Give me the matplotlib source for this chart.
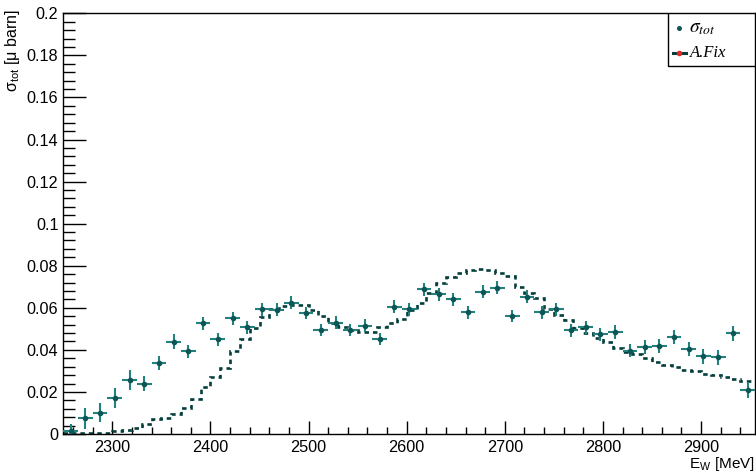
#!/usr/bin/env python3
"""Total cross section vs W, measured points against the A.Fix model histogram."""

import matplotlib

matplotlib.use("Agg")
import matplotlib.pyplot as plt
from matplotlib.lines import Line2D
from matplotlib.patches import Rectangle
from matplotlib.ticker import FuncFormatter, MultipleLocator

# measured points (15 MeV bins)
data_w = [2257.5, 2272.5, 2287.5, 2302.5, 2317.5, 2332.5, 2347.5, 2362.5, 2377.5, 2392.5,
          2407.5, 2422.5, 2437.5, 2452.5, 2467.5, 2482.5, 2497.5, 2512.5, 2527.5, 2542.5,
          2557.5, 2572.5, 2587.5, 2602.5, 2617.5, 2632.5, 2647.5, 2662.5, 2677.5, 2692.5,
          2707.5, 2722.5, 2737.5, 2752.5, 2767.5, 2782.5, 2797.5, 2812.5, 2827.5, 2842.5,
          2857.5, 2872.5, 2887.5, 2902.5, 2917.5, 2932.5, 2947.5]
data_sigma = [0.0016, 0.0075, 0.0101, 0.0170, 0.0257, 0.0240, 0.0339, 0.0439, 0.0394, 0.0526,
              0.0450, 0.0550, 0.0507, 0.0592, 0.0590, 0.0625, 0.0576, 0.0494, 0.0530, 0.0494,
              0.0515, 0.0451, 0.0605, 0.0594, 0.0689, 0.0664, 0.0641, 0.0578, 0.0676, 0.0695,
              0.0561, 0.0652, 0.0578, 0.0592, 0.0494, 0.0508, 0.0475, 0.0486, 0.0396, 0.0415,
              0.0418, 0.0462, 0.0404, 0.0370, 0.0364, 0.0478, 0.0209]
data_err = [0.0030, 0.0050, 0.0046, 0.0048, 0.0046, 0.0034, 0.0034, 0.0036, 0.0031, 0.0031,
            0.0031, 0.0031, 0.0031, 0.0031, 0.0031, 0.0031, 0.0030, 0.0030, 0.0030, 0.0030,
            0.0030, 0.0030, 0.0031, 0.0031, 0.0031, 0.0031, 0.0031, 0.0030, 0.0031, 0.0031,
            0.0030, 0.0031, 0.0031, 0.0031, 0.0031, 0.0031, 0.0031, 0.0032, 0.0032, 0.0033,
            0.0033, 0.0034, 0.0034, 0.0035, 0.0035, 0.0037, 0.0040]
bin_half = 7.5

# A.Fix model histogram (10 MeV bins)
fix_edges = [2250, 2260, 2270, 2280, 2290, 2300, 2310, 2320, 2330, 2340, 2350, 2360,
             2370, 2380, 2390, 2400, 2410, 2420, 2430, 2440, 2450, 2460, 2470, 2480,
             2490, 2500, 2510, 2520, 2530, 2540, 2550, 2560, 2570, 2580, 2590, 2600,
             2610, 2620, 2630, 2640, 2650, 2660, 2670, 2680, 2690, 2700, 2710, 2720,
             2730, 2740, 2750, 2760, 2770, 2780, 2790, 2800, 2810, 2820, 2830, 2840,
             2850, 2860, 2870, 2880, 2890, 2900, 2910, 2920, 2930, 2940, 2950, 2960]
fix_sigma = [0.0005, 0.0004, 0.0003, 0.0003, 0.0006, 0.0013, 0.0020, 0.0028, 0.0046, 0.0070,
             0.0075, 0.0096, 0.0125, 0.0168, 0.0222, 0.0270, 0.0315, 0.0395, 0.0450, 0.0502,
             0.0555, 0.0592, 0.0608, 0.0613, 0.0612, 0.0590, 0.0560, 0.0530, 0.0510, 0.0495,
             0.0486, 0.0486, 0.0510, 0.0526, 0.0545, 0.0590, 0.0625, 0.0670, 0.0716, 0.0745,
             0.0765, 0.0782, 0.0783, 0.0778, 0.0767, 0.0750, 0.0700, 0.0668, 0.0645, 0.0595,
             0.0565, 0.0540, 0.0505, 0.0479, 0.0458, 0.0435, 0.0410, 0.0390, 0.0378, 0.0363,
             0.0344, 0.0330, 0.0318, 0.0305, 0.0300, 0.0285, 0.0282, 0.0270, 0.0262, 0.0253,
             0.0253]

TEAL = "#22807d"
DOT = "#0c5755"
DARK = "#033f3d"

plt.rcParams["font.family"] = ["Liberation Sans", "DejaVu Sans"]

fig = plt.figure(figsize=(7.56, 4.73), dpi=100)
ax = fig.add_axes([63.3 / 756, 1 - 434 / 473, (755 - 63.3) / 756, (434 - 13.3) / 473])

ax.stairs(fix_sigma, fix_edges, color=DARK, linewidth=1.9,
          linestyle=(0, (1.7, 1.5)), baseline=None, zorder=2)
ax.errorbar(data_w, data_sigma, xerr=bin_half, yerr=data_err, fmt="o", ms=3.0,
            color=DOT, mfc=DOT, mec=DOT, ecolor=TEAL, elinewidth=1.5,
            capsize=0, zorder=3)

ax.set_xlim(2250, 2955)
ax.set_ylim(0, 0.2)

ax.xaxis.set_major_locator(MultipleLocator(100))
ax.xaxis.set_minor_locator(MultipleLocator(20))
ax.yaxis.set_major_locator(MultipleLocator(0.02))
ax.yaxis.set_minor_locator(MultipleLocator(0.004))
ax.yaxis.set_major_formatter(FuncFormatter(lambda v, p: "%g" % round(v, 4)))

ax.tick_params(axis="both", which="both", direction="in", top=False, right=False,
               width=1.0, labelsize=11.7, colors="black")
ax.tick_params(axis="y", which="major", length=16.3, pad=3.5)
ax.tick_params(axis="y", which="minor", length=8.4)
ax.tick_params(axis="x", which="major", length=9.4, pad=4)
ax.tick_params(axis="x", which="minor", length=5.0)
for s in ax.spines.values():
    s.set_linewidth(1.0)

# axis titles, ROOT style (aligned to the axis ends)
fig.text(13 / 756, 1 - 9 / 473, r"σ$_{\mathregular{tot}}$ [μ barn]", rotation=90,
         ha="center", va="top", fontsize=11.5)
fig.text(755 / 756, 1 - 464 / 473, r"E$_{\mathregular{W}}$ [MeV]", ha="right",
         va="center", fontsize=11)

# legend box
leg_x0 = (668 - 63.3) / (755 - 63.3)
leg_y0 = (434 - 66) / (434 - 13.3)
ax.add_patch(Rectangle((leg_x0, leg_y0), 1 - leg_x0, 1 - leg_y0, transform=ax.transAxes,
                       facecolor="white", edgecolor="black", linewidth=1.0, zorder=5))
ax.add_line(Line2D([0.8906], [0.9643], transform=ax.transAxes, marker="o", ms=2.6,
                   color=DOT, linestyle="none", zorder=6))
ax.text(0.904, 0.9643, r"$\sigma_{tot}$", transform=ax.transAxes, fontsize=14,
        math_fontfamily="stix", va="center", ha="left", zorder=6)
ax.add_line(Line2D([0.8809, 0.9002], [0.9063, 0.9063], transform=ax.transAxes,
                   color=DARK, linewidth=2.2, zorder=6))
ax.add_line(Line2D([0.8906], [0.9063], transform=ax.transAxes, marker="o", ms=3,
                   color="#e02828", linestyle="none", zorder=7))
ax.text(0.906, 0.9063, "A.Fix", transform=ax.transAxes, fontsize=12,
        family="Liberation Serif", style="italic", va="center", ha="left", zorder=6)

fig.savefig("out.png", dpi=100)
